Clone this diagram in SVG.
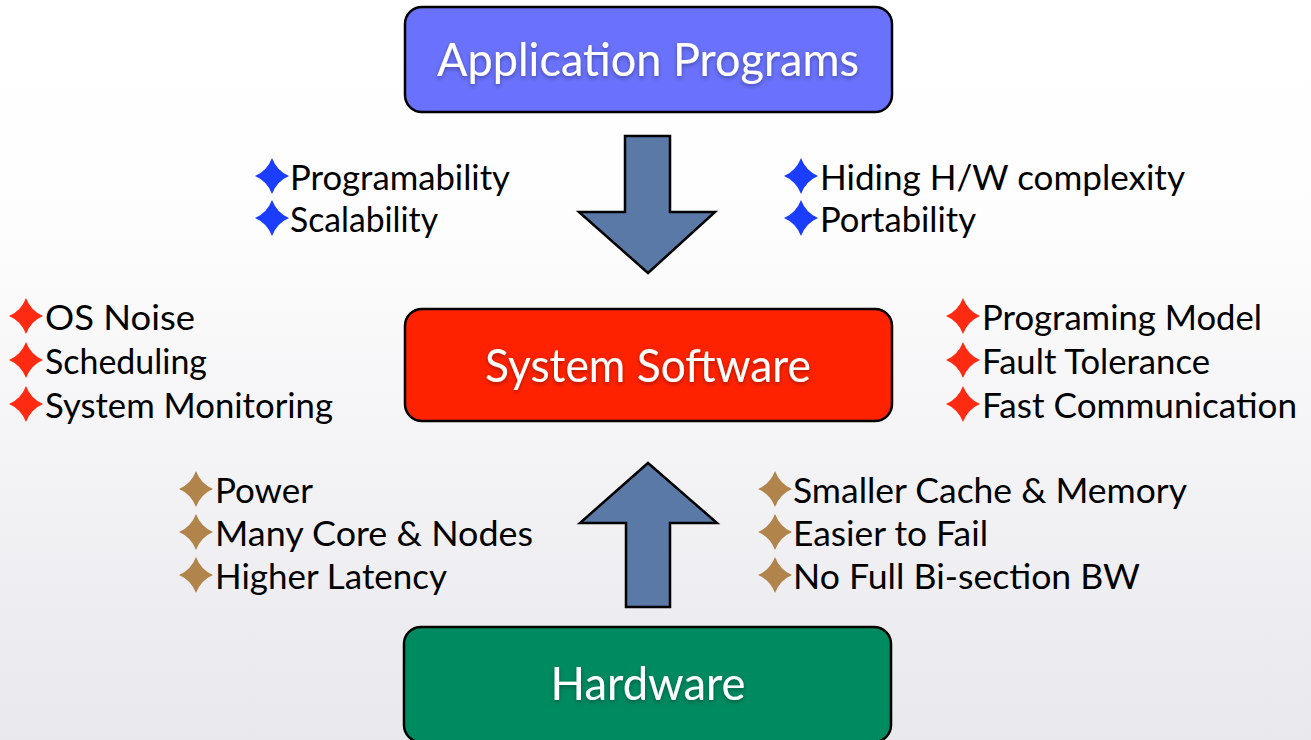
<svg xmlns="http://www.w3.org/2000/svg" xmlns:xlink="http://www.w3.org/1999/xlink" width="1311" height="740" viewBox="0 0 1311 740">
  <defs>
    <linearGradient id="bg" x1="0" y1="0" x2="0" y2="1">
      <stop offset="0" stop-color="#ffffff"/>
      <stop offset="0.3" stop-color="#fdfdfd"/>
      <stop offset="1" stop-color="#e8e8ed"/>
    </linearGradient>
    <filter id="tshadow" x="-10%" y="-30%" width="120%" height="160%">
      <feDropShadow dx="0" dy="2" stdDeviation="2" flood-color="#000" flood-opacity="0.35"/>
    </filter>
    <path id="star" d="M0,-18 Q5,-5 17,0 Q5,5 0,18 Q-5,5 -17,0 Q-5,-5 0,-18Z"/>
  </defs>
  <style>
    .box { stroke: #000; stroke-width: 2.5; }
    .lbl { font-family: Lato, "Open Sans", sans-serif; font-size: 46px; fill: #ffffff; text-anchor: middle; }
    .item { font-family: Lato, "Open Sans", sans-serif; font-size: 34px; fill: #000; }
    .arrow { fill: #5a79a6; stroke: #000; stroke-width: 2.5; stroke-linejoin: miter; }
    .blue { fill: #1a3dff; }
    .red { fill: #ff2a12; }
    .brown { fill: #b0844a; }
  </style>

  <rect x="0" y="0" width="1311" height="740" fill="url(#bg)"/>

  <g id="connectors">
    <path class="arrow" d="M625,136 L670,136 L670,212 L715,212 L648,273 L579,212 L625,212 Z"/>
    <path class="arrow" d="M648,463 L717,523 L670,523 L670,607 L626,607 L626,523 L580,523 Z"/>
  </g>

  <g id="node-app">
    <rect class="box" x="405" y="7" width="487" height="105" rx="17" fill="#6a72fd"/>
    <text class="lbl" x="648" y="76" filter="url(#tshadow)" textLength="422" lengthAdjust="spacingAndGlyphs">Application Programs</text>
  </g>

  <g id="node-system">
    <rect class="box" x="405" y="309" width="487" height="112" rx="17" fill="#ff2200"/>
    <text class="lbl" x="648" y="382" filter="url(#tshadow)" textLength="326" lengthAdjust="spacingAndGlyphs">System Software</text>
  </g>

  <g id="node-hardware">
    <rect class="box" x="404" y="627" width="487" height="115" rx="17" fill="#008a60"/>
    <text class="lbl" x="648" y="700" filter="url(#tshadow)" textLength="195" lengthAdjust="spacingAndGlyphs">Hardware</text>
  </g>

  <g id="notes-top-left">
    <use href="#star" xlink:href="#star" x="272" y="176" class="blue"/>
    <text class="item" x="290" y="190" textLength="220" lengthAdjust="spacingAndGlyphs">Programability</text>
    <use href="#star" xlink:href="#star" x="272" y="218" class="blue"/>
    <text class="item" x="290" y="232" textLength="148" lengthAdjust="spacingAndGlyphs">Scalability</text>
  </g>

  <g id="notes-top-right">
    <use href="#star" xlink:href="#star" x="801" y="176" class="blue"/>
    <text class="item" x="820" y="190" textLength="365" lengthAdjust="spacingAndGlyphs">Hiding H/W complexity</text>
    <use href="#star" xlink:href="#star" x="801" y="218" class="blue"/>
    <text class="item" x="820" y="232" textLength="156" lengthAdjust="spacingAndGlyphs">Portability</text>
  </g>

  <g id="notes-mid-left">
    <use href="#star" xlink:href="#star" x="26" y="316" class="red"/>
    <text class="item" x="45" y="330" textLength="150" lengthAdjust="spacingAndGlyphs">OS Noise</text>
    <use href="#star" xlink:href="#star" x="26" y="360" class="red"/>
    <text class="item" x="45" y="374" textLength="162" lengthAdjust="spacingAndGlyphs">Scheduling</text>
    <use href="#star" xlink:href="#star" x="26" y="404" class="red"/>
    <text class="item" x="45" y="418" textLength="288" lengthAdjust="spacingAndGlyphs">System Monitoring</text>
  </g>

  <g id="notes-mid-right">
    <use href="#star" xlink:href="#star" x="963" y="316" class="red"/>
    <text class="item" x="982" y="330" textLength="280" lengthAdjust="spacingAndGlyphs">Programing Model</text>
    <use href="#star" xlink:href="#star" x="963" y="360" class="red"/>
    <text class="item" x="982" y="374" textLength="228" lengthAdjust="spacingAndGlyphs">Fault Tolerance</text>
    <use href="#star" xlink:href="#star" x="963" y="404" class="red"/>
    <text class="item" x="982" y="418" textLength="315" lengthAdjust="spacingAndGlyphs">Fast Communication</text>
  </g>

  <g id="notes-bottom-left">
    <use href="#star" xlink:href="#star" x="196" y="489" class="brown"/>
    <text class="item" x="215" y="503" textLength="98" lengthAdjust="spacingAndGlyphs">Power</text>
    <use href="#star" xlink:href="#star" x="196" y="532" class="brown"/>
    <text class="item" x="215" y="546" textLength="318" lengthAdjust="spacingAndGlyphs">Many Core &amp; Nodes</text>
    <use href="#star" xlink:href="#star" x="196" y="575" class="brown"/>
    <text class="item" x="215" y="589" textLength="232" lengthAdjust="spacingAndGlyphs">Higher Latency</text>
  </g>

  <g id="notes-bottom-right">
    <use href="#star" xlink:href="#star" x="775" y="489" class="brown"/>
    <text class="item" x="793" y="503" textLength="394" lengthAdjust="spacingAndGlyphs">Smaller Cache &amp; Memory</text>
    <use href="#star" xlink:href="#star" x="775" y="532" class="brown"/>
    <text class="item" x="793" y="546" textLength="195" lengthAdjust="spacingAndGlyphs">Easier to Fail</text>
    <use href="#star" xlink:href="#star" x="775" y="575" class="brown"/>
    <text class="item" x="793" y="589" textLength="347" lengthAdjust="spacingAndGlyphs">No Full Bi-section BW</text>
  </g>
</svg>
